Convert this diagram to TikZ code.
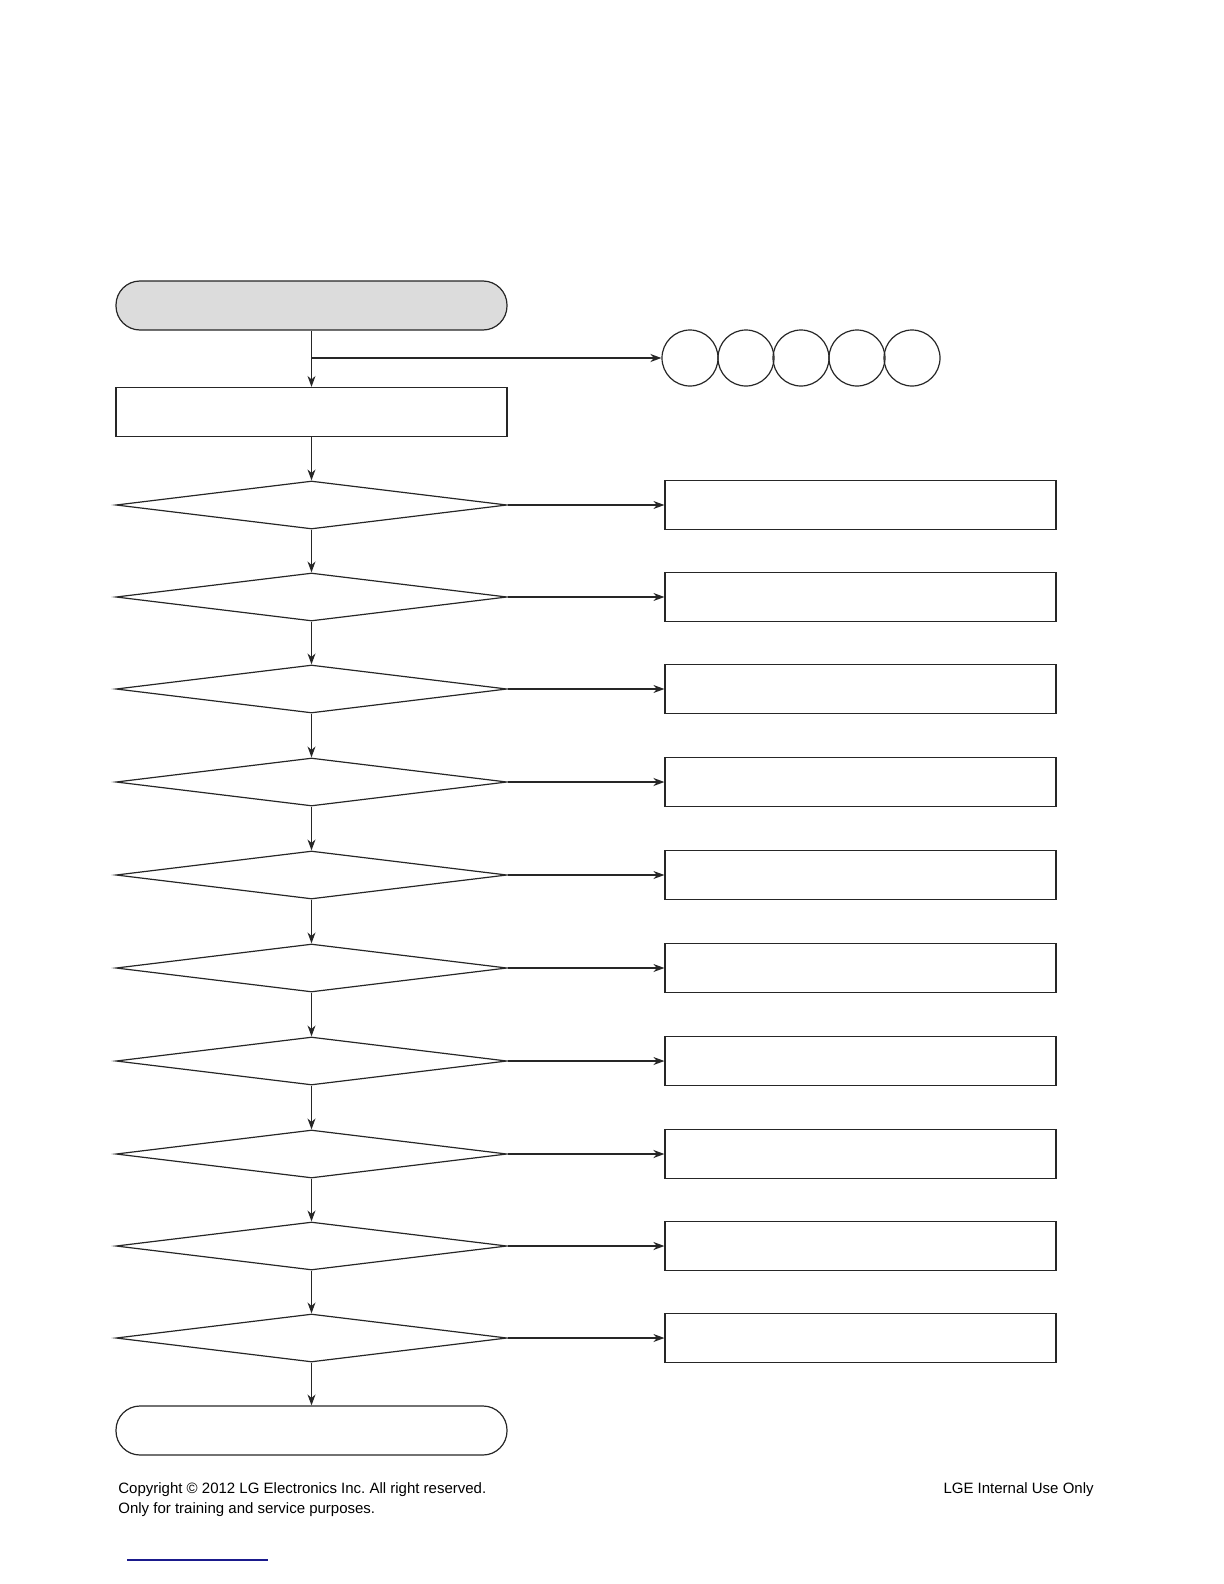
\documentclass[tikz,border=0pt]{standalone}
\usepackage{fontspec}
\setmainfont{Liberation Sans}
\usepackage{xcolor}
\usetikzlibrary{positioning}
\usetikzlibrary{shapes.geometric}
\usetikzlibrary{arrows.meta}

\definecolor{startgray}{HTML}{DCDCDC}
\definecolor{linkblue}{HTML}{1A1A8C}

\begin{document}
\begin{tikzpicture}
  [
    x=0.5pt, y=-0.5pt,
    term/.style={
      draw=black!85,
      line width=0.6pt,
      rounded corners=12pt,
      minimum width=195.5pt,
      minimum height=24.5pt,
      inner sep=0pt
    },
    box/.style={draw=black!85, line width=0.6pt, minimum width=195.5pt, minimum height=24.5pt, inner sep=0pt},
    test/.style={draw=black!85, line width=0.6pt, diamond, minimum width=195.5pt, minimum height=24pt, inner sep=0pt},
    ring/.style={draw=black!85, line width=0.6pt, circle, minimum size=28pt, inner sep=0pt},
    ld/.style={draw=black!85, line width=0.6pt, -{Stealth[length=5.5pt,width=4pt,inset=1.8pt]}},
    ldb/.style={ld, line width=1pt},
    foot/.style={font=\fontsize{7.5}{9}\selectfont, inner sep=0pt}
  ]
  \useasboundingbox (0,0) rectangle (1224,1584);

  \node (start) at (311.5,305.5) [term, fill=startgray] {};
  \node (init)  at (311.5,412)   [box] {};
  \coordinate (split) at (311.5,358);

  \node (r1) at (690,358) [ring] {};
  \node (r2) at (746,358) [ring] {};
  \node (r3) at (801,358) [ring] {};
  \node (r4) at (857,358) [ring] {};
  \node (r5) at (912,358) [ring] {};

  \node (q1)  at (311.5,505)  [test] {};
  \node (q2)  at (311.5,597)  [test] {};
  \node (q3)  at (311.5,689)  [test] {};
  \node (q4)  at (311.5,782)  [test] {};
  \node (q5)  at (311.5,875)  [test] {};
  \node (q6)  at (311.5,968)  [test] {};
  \node (q7)  at (311.5,1061) [test] {};
  \node (q8)  at (311.5,1154) [test] {};
  \node (q9)  at (311.5,1246) [test] {};
  \node (q10) at (311.5,1338) [test] {};

  \node (f1)  at (860.5,505)  [box] {};
  \node (f2)  at (860.5,597)  [box] {};
  \node (f3)  at (860.5,689)  [box] {};
  \node (f4)  at (860.5,782)  [box] {};
  \node (f5)  at (860.5,875)  [box] {};
  \node (f6)  at (860.5,968)  [box] {};
  \node (f7)  at (860.5,1061) [box] {};
  \node (f8)  at (860.5,1154) [box] {};
  \node (f9)  at (860.5,1246) [box] {};
  \node (f10) at (860.5,1338) [box] {};

  \node (stop) at (311.5,1430.5) [term] {};

  % main column
  \draw [draw=black!85, line width=0.6pt] (start.south) -- (split);
  \draw [ld] (split) -- (init.north);
  \draw [ldb] (split) -- (r1.west);
  \draw [ld] (init) -- (q1);
  \draw [ld] (q1) -- (q2);
  \draw [ld] (q2) -- (q3);
  \draw [ld] (q3) -- (q4);
  \draw [ld] (q4) -- (q5);
  \draw [ld] (q5) -- (q6);
  \draw [ld] (q6) -- (q7);
  \draw [ld] (q7) -- (q8);
  \draw [ld] (q8) -- (q9);
  \draw [ld] (q9) -- (q10);
  \draw [ld] (q10) -- (stop);

  % side branches
  \draw [ld]  (q1) -- (f1);
  \draw [ld]  (q2) -- (f2);
  \draw [ld]  (q3) -- (f3);
  \draw [ldb] (q4) -- (f4);
  \draw [ld]  (q5) -- (f5);
  \draw [ld]  (q6) -- (f6);
  \draw [ld]  (q7) -- (f7);
  \draw [ldb] (q8) -- (f8);
  \draw [ldb] (q9) -- (f9);
  \draw [ld]  (q10) -- (f10);

  \node (copy1) at (118,1490) [foot, anchor=west] {Copyright © 2012 LG Electronics Inc.\ All right reserved.};
  \node (copy2) [below=2.2pt of copy1.south west, anchor=north west, foot] {Only for training and service purposes.};
  \node (lge) at (1094,1490) [foot, anchor=east] {LGE Internal Use Only};

  \coordinate (ul1) at (127,1560);
  \coordinate (ul2) at (268,1560);
  \draw [linkblue, line width=0.6pt] (ul1) -- (ul2);
\end{tikzpicture}
\end{document}
